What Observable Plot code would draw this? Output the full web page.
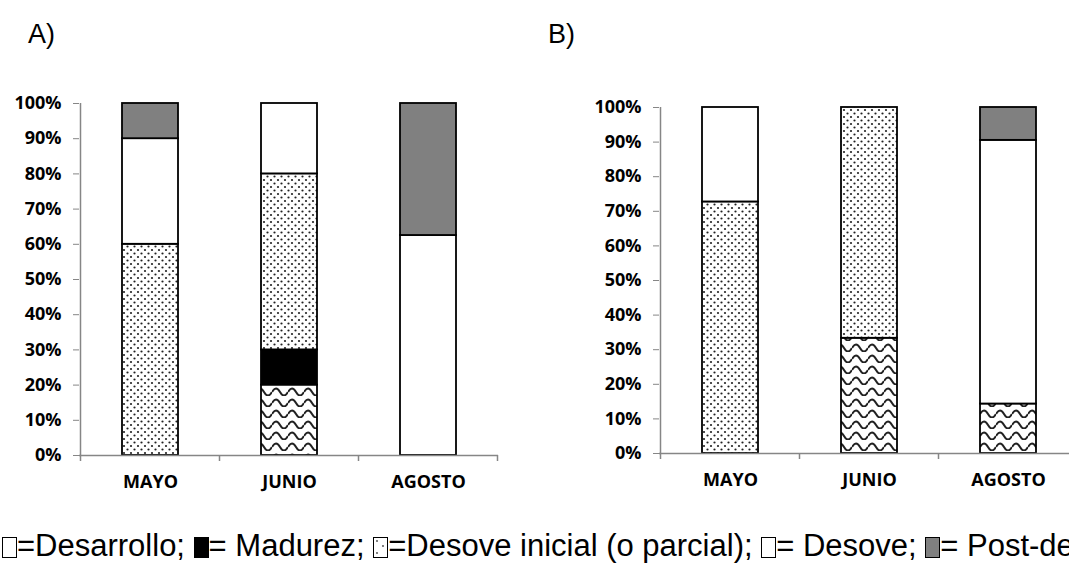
<!DOCTYPE html>
<html>
<head>
<meta charset="utf-8">
<script src="https://cdn.jsdelivr.net/npm/d3@7"></script>
<script src="https://cdn.jsdelivr.net/npm/@observablehq/plot@0.6"></script>
<style>
  html, body { margin: 0; padding: 0; background: #fff; }
  body { width: 1069px; height: 578px; overflow: hidden; position: relative; }
  .panel-label { position: absolute; font-family: "Liberation Sans", Arial, sans-serif; font-size: 27px; color: #000; }
  .panel { position: absolute; top: 0; width: 520px; }
  .panel svg { max-width: none !important; }
  #legend { position: absolute; left: 2px; top: 528px; white-space: nowrap; font-family: "Liberation Sans", Arial, sans-serif; font-size: 31px; color: #000; }
  .sw { display: inline-block; width: 13px; height: 19px; border: 1.5px solid #000; vertical-align: -2px; box-sizing: content-box; }
</style>
</head>
<body>
<svg width="0" height="0" style="position:absolute">
  <defs>
    <pattern id="dots" width="7" height="7" patternUnits="userSpaceOnUse">
      <rect width="7" height="7" fill="#fff"/>
      <circle cx="1.5" cy="1.5" r="1.1" fill="#222"/>
      <circle cx="5" cy="5" r="1.1" fill="#222"/>
    </pattern>
    <pattern id="wave" width="16" height="11" patternUnits="userSpaceOnUse">
      <rect width="16" height="11" fill="#fff"/>
      <path d="M0 7 Q4 0 8 7 T16 7" fill="none" stroke="#222" stroke-width="2"/>
    </pattern>
  </defs>
</svg>

<div class="panel-label" style="left:28px; top:19px;">A)</div>
<div class="panel-label" style="left:548px; top:19px;">B)</div>
<div id="panelA" class="panel" style="left:0px;"></div>
<div id="panelB" class="panel" style="left:580px;"></div>
<div id="legend"></div>

<script>
// Sampling months (categories on the x axis)
const months = ["MAYO", "JUNIO", "AGOSTO"];
// Gonadal stages, bottom to top of each stack
const stages = ["Desarrollo", "Madurez", "Desove inicial", "Desove", "Post-desove"];
const stageFills = ["url(#wave)", "#000000", "url(#dots)", "#ffffff", "#808080"];
const yTicks = [0, 10, 20, 30, 40, 50, 60, 70, 80, 90, 100];

// Panel A: percentage per month for each stage
const desarrolloA = [0, 20, 0];
const madurezA = [0, 10, 0];
const desoveInicialA = [60, 50, 0];
const desoveA = [30, 20, 62.5];
const postDesoveA = [10, 0, 37.5];

// Panel B: percentage per month for each stage
const desarrolloB = [0, 33.3, 14.3];
const madurezB = [0, 0, 0];
const desoveInicialB = [72.7, 66.7, 0];
const desoveB = [27.3, 0, 76.2];
const postDesoveB = [0, 0, 9.5];

function rows(series) {
  const out = [];
  months.forEach((m, i) => {
    stages.forEach((s, j) => {
      const v = series[j][i];
      if (v > 0) out.push({month: m, stage: s, value: v});
    });
  });
  return out;
}

function panel(data, {marginTop, height}) {
  const chart = Plot.plot({
    width: 520,
    height,
    marginLeft: 79,
    marginRight: 22,
    marginTop,
    marginBottom: 55,
    style: {fontFamily: "'Open Sans', sans-serif", fontWeight: "bold", fontSize: "18px", color: "#000", background: "transparent", overflow: "visible", maxWidth: "none"},
    x: {domain: months, paddingInner: 0.6, paddingOuter: 0.3, label: null},
    y: {domain: [0, 100], label: null},
    color: {type: "ordinal", domain: stages, range: stageFills},
    marks: [
      Plot.barY(data, {x: "month", y: "value", fill: "stage", stroke: "#000", strokeWidth: 1.8}),
      Plot.ruleY([0], {stroke: "#868686", strokeWidth: 1.5}),
      Plot.axisY({ticks: yTicks, tickFormat: d => d + "%", tickSize: 6, tickPadding: 12, stroke: "#868686", fill: "#000"}),
      Plot.axisX({tickSize: 0, tickPadding: 20, fill: "#000"})
    ]
  });

  // Excel-style axis line and boundary ticks between categories
  const svg = d3.select(chart);
  const xs = chart.scale("x");
  const ys = chart.scale("y");
  const y0 = ys.apply(0), y1 = ys.apply(100);
  const step = xs.step, bw = xs.bandwidth;
  const bounds = months.map(m => xs.apply(m) - (step - bw) / 2);
  bounds.push(xs.apply(months[months.length - 1]) + bw + (step - bw) / 2);
  const g = svg.append("g").attr("stroke", "#868686").attr("stroke-width", 1.5);
  g.append("line").attr("x1", bounds[0]).attr("x2", bounds[0]).attr("y1", y1).attr("y2", y0 + 6);
  g.selectAll(".bt").data(bounds.slice(1)).join("line")
    .attr("x1", d => d).attr("x2", d => d).attr("y1", y0).attr("y2", y0 + 6);
  return chart;
}

document.getElementById("panelA").append(
  panel(rows([desarrolloA, madurezA, desoveInicialA, desoveA, postDesoveA]), {marginTop: 103, height: 510})
);
document.getElementById("panelB").append(
  panel(rows([desarrolloB, madurezB, desoveInicialB, desoveB, postDesoveB]), {marginTop: 107, height: 508})
);

// Legend line with pattern swatches
const legendItems = [
  {fill: "#ffffff", text: "=Desarrollo; "},
  {fill: "#000000", text: "= Madurez; "},
  {fill: "dots", text: "=Desove inicial (o parcial); "},
  {fill: "#ffffff", text: "= Desove; "},
  {fill: "#808080", text: "= Post-desove"}
];
const legend = d3.select("#legend");
legendItems.forEach(d => {
  const sw = legend.append("span").attr("class", "sw");
  if (d.fill === "dots") {
    sw.style("background", "#fff");
    const s = sw.append("svg").attr("width", 13).attr("height", 19).style("display", "block");
    s.append("circle").attr("cx", 3).attr("cy", 3).attr("r", 0.9).attr("fill", "#444");
    s.append("circle").attr("cx", 9).attr("cy", 8).attr("r", 0.9).attr("fill", "#444");
    s.append("circle").attr("cx", 3).attr("cy", 15).attr("r", 0.9).attr("fill", "#444");
  } else {
    sw.style("background", d.fill);
  }
  legend.append("span").text(d.text);
});
</script>
</body>
</html>
